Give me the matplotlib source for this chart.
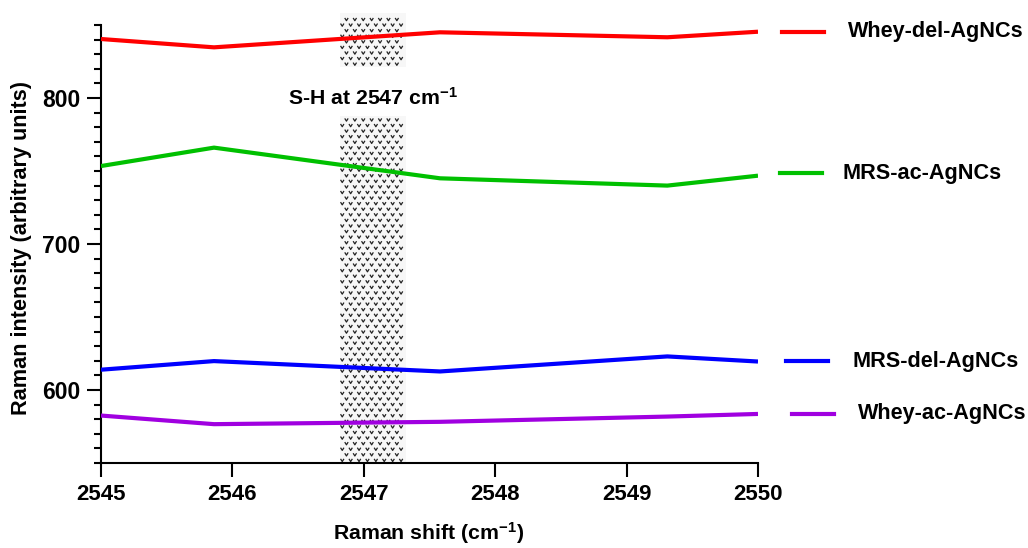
import numpy as np
import matplotlib
matplotlib.use("Agg")
import matplotlib.pyplot as plt
from matplotlib.lines import Line2D
from matplotlib.patches import Rectangle
from matplotlib.path import Path

plt.rcParams['font.family'] = ['Liberation Sans', 'DejaVu Sans']
plt.rcParams['font.weight'] = 'bold'
plt.rcParams['mathtext.fontset'] = 'custom'
plt.rcParams['mathtext.rm'] = 'Liberation Sans:bold'
plt.rcParams['mathtext.bf'] = 'Liberation Sans:bold'
plt.rcParams['mathtext.default'] = 'bf'

# ---- data ----
raman_shift = [2545.0, 2545.86, 2547.58, 2549.31, 2550.0]
whey_del = [840.4, 834.7, 845.0, 841.6, 845.4]
mrs_ac = [753.4, 766.0, 745.0, 740.0, 746.8]
mrs_del = [613.9, 619.8, 612.7, 623.0, 619.5]
whey_ac = [582.5, 576.6, 578.2, 581.8, 583.6]

series_names = ["Whey-del-AgNCs", "MRS-ac-AgNCs", "MRS-del-AgNCs", "Whey-ac-AgNCs"]
series_values = [whey_del, mrs_ac, mrs_del, whey_ac]
series_colors = ["#ff0000", "#00c000", "#0000ff", "#a000e0"]

xticks = [2545, 2546, 2547, 2548, 2549, 2550]
yticks = [600, 700, 800]
band = (2546.82, 2547.32)
annotation = "S-H at 2547 cm$^{-1}$"

W, H = 1028, 548
fig = plt.figure(figsize=(W / 100, H / 100), dpi=100)
L, R, T, B = 101, 758, 25, 463
ax = fig.add_axes([L / W, 1 - B / H, (R - L) / W, (B - T) / H])

ax.set_xlim(2545, 2550)
ax.set_ylim(550, 850)

# hatched band (texture)
ytop, gap_lo, gap_hi = 858, 787.5, 821
for y0, y1 in [(550, gap_lo), (gap_hi, ytop)]:
    ax.add_patch(Rectangle((band[0], y0), band[1] - band[0], y1 - y0,
                           facecolor="#f7f7f7", edgecolor="none",
                           zorder=1, clip_on=False))
chevron = Path([(-1, 0.8), (0, -0.8), (1, 0.8)], [Path.MOVETO, Path.LINETO, Path.LINETO])
dxp = 8.4 / 131.4
dyp = 5.6 / 1.465
gx, gy = [], []
row = 0
y = 550 + dyp / 2
while y < ytop - 1:
    off = (dxp / 2) if row % 2 else 0
    x = band[0] + dxp / 4 + off
    while x < band[1] - dxp / 8:
        if not (gap_lo - 1 < y < gap_hi + 1):
            gx.append(x); gy.append(y)
        x += dxp
    y += dyp
    row += 1
ax.scatter(gx, gy, s=6, marker=chevron, facecolor="none", edgecolor="#222222",
           linewidths=0.9, zorder=2, clip_on=False)

ax.text(np.mean(band), 800, annotation, ha="center", va="center",
        fontsize=15.3, fontweight="bold", zorder=3)

for vals, col in zip(series_values, series_colors):
    ax.plot(raman_shift, vals, color=col, lw=3.0, zorder=4, solid_capstyle="butt")

# axes styling
for s in ["top", "right"]:
    ax.spines[s].set_visible(False)
for s in ["left", "bottom"]:
    ax.spines[s].set_linewidth(1.5)
ax.set_xticks(xticks)
ax.set_xticklabels([str(v) for v in xticks])
ax.set_yticks(yticks)
ax.set_yticks(np.arange(550, 851, 10), minor=True)
ax.tick_params(axis="both", which="major", direction="out", width=1.5,
               length=10, labelsize=16, pad=5)
ax.tick_params(axis="y", which="major", labelsize=16.5)
ax.tick_params(axis="y", which="minor", direction="out", width=1.5, length=5)
ax.tick_params(axis="x", which="minor", length=0)
for lab in ax.get_xticklabels() + ax.get_yticklabels():
    lab.set_fontweight("bold")

fig.text(22 / W, 1 - 248 / H, "Raman intensity (arbitrary units)", rotation=90,
         ha="center", va="center", fontsize=15.6, fontweight="bold")
fig.text(429 / W, 1 - 533 / H, "Raman shift (cm$^{-1}$)",
         ha="center", va="center", fontsize=15.3, fontweight="bold")

# legend (manual, right of axes)
leg_y = [32, 173, 361, 414]
leg_x0 = [782, 780, 786, 792]
leg_tx = [848, 843, 853, 858]
for name, col, yy, x0, tx in zip(series_names, series_colors, leg_y, leg_x0, leg_tx):
    fig.add_artist(Line2D([x0 / W, (x0 + 42) / W], [1 - yy / H, 1 - yy / H],
                          color=col, lw=3.0, transform=fig.transFigure))
    fig.text(tx / W, 1 - yy / H, name, ha="left", va="center",
             fontsize=15.6, fontweight="bold")

fig.savefig("out.png", dpi=100)
